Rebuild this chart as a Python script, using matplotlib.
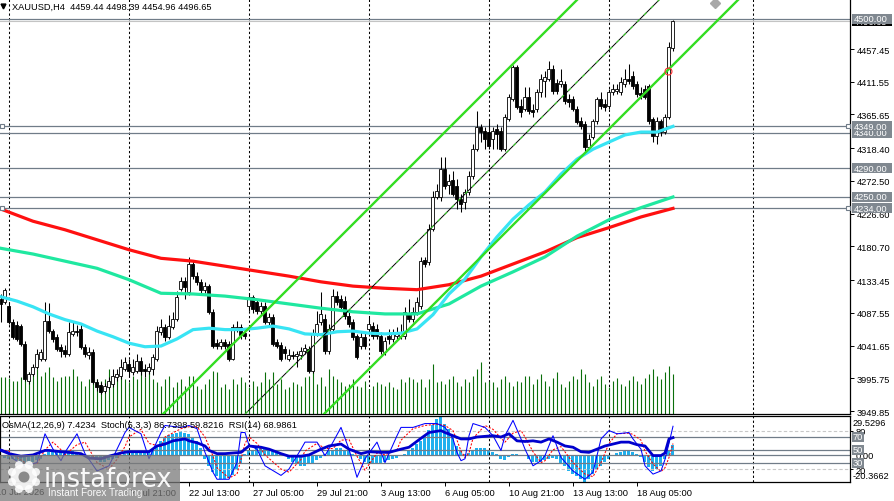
import matplotlib
matplotlib.use("Agg")
import matplotlib.pyplot as plt
import matplotlib.transforms as mtransforms
from matplotlib.patches import Rectangle, Circle
import numpy as np

plt.rcParams['font.family'] = ['Liberation Sans', 'DejaVu Sans']
FS = 6.7

# ---- XAUUSD H4 candles ----
opens = [4107, 4103, 4097, 4075, 4071, 4069, 4044, 3992, 4002, 4012,
         4023, 4023, 4076, 4062, 4054, 4040, 4035, 4030, 4058, 4062,
         4065, 4040, 4028, 4033, 3991, 3986, 3978, 3984, 3988, 3998,
         3999, 4009, 4016, 4005, 4006, 4020, 4009, 4006, 4009, 4023,
         4061, 4068, 4054, 4068, 4079, 4121, 4132, 4117, 4156, 4139,
         4131, 4120, 4125, 4089, 4045, 4041, 4047, 4044, 4023, 4065,
         4068, 4059, 4097, 4110, 4103, 4090, 4097, 4075, 4082, 4047,
         4042, 4037, 4023, 4028, 4027, 4028, 4034, 4037, 4006, 4058,
         4075, 4079, 4034, 4065, 4111, 4107, 4104, 4083, 4075, 4055,
         4041, 4054, 4065, 4069, 4065, 4055, 4033, 4055, 4051, 4055,
         4055, 4055, 4086, 4079, 4089, 4097, 4162, 4159, 4205, 4250,
         4250, 4289, 4267, 4274, 4265, 4247, 4243, 4257, 4279, 4317,
         4348, 4343, 4341, 4331, 4345, 4343, 4317, 4359, 4387, 4432,
         4378, 4373, 4390, 4372, 4373, 4397, 4413, 4415, 4429, 4410,
         4408, 4408, 4387, 4387, 4373, 4357, 4352, 4320, 4334, 4357,
         4387, 4380, 4378, 4397, 4399, 4397, 4408, 4415, 4420, 4408,
         4396, 4401, 4406, 4359, 4335, 4357, 4341, 4362, 4459.44]
highs = [4114, 4122, 4103, 4079, 4076, 4072, 4048, 4005, 4016, 4037,
         4037, 4103, 4101, 4065, 4058, 4044, 4042, 4075, 4076, 4071,
         4072, 4044, 4040, 4037, 3995, 3991, 3989, 3998, 4009, 4009,
         4023, 4026, 4023, 4023, 4030, 4026, 4016, 4017, 4030, 4069,
         4079, 4072, 4085, 4089, 4118, 4138, 4138, 4166, 4160, 4145,
         4135, 4131, 4128, 4093, 4051, 4051, 4051, 4048, 4072, 4076,
         4072, 4065, 4115, 4113, 4107, 4103, 4103, 4087, 4086, 4051,
         4047, 4041, 4037, 4034, 4034, 4040, 4044, 4041, 4065, 4090,
         4117, 4086, 4072, 4121, 4118, 4113, 4111, 4089, 4079, 4058,
         4061, 4061, 4082, 4075, 4072, 4061, 4054, 4065, 4065, 4068,
         4072, 4096, 4107, 4096, 4110, 4166, 4166, 4212, 4258, 4268,
         4306, 4306, 4282, 4286, 4275, 4254, 4261, 4286, 4324, 4371,
         4352, 4348, 4359, 4348, 4352, 4348, 4366, 4394, 4435, 4435,
         4387, 4404, 4404, 4380, 4401, 4422, 4427, 4441, 4435, 4415,
         4429, 4413, 4394, 4392, 4378, 4362, 4357, 4338, 4359, 4390,
         4397, 4387, 4401, 4408, 4408, 4418, 4429, 4437, 4427, 4413,
         4404, 4407, 4408, 4362, 4362, 4359, 4366, 4467, 4498.39]
lows = [4075, 4100, 4072, 4051, 4048, 4041, 3992, 3988, 3999, 4009,
        4020, 4020, 4059, 4047, 4034, 4026, 4026, 4027, 4055, 4055,
        4037, 4026, 4023, 3988, 3978, 3974, 3975, 3981, 3984, 3992,
        3995, 4006, 3998, 4000, 4003, 4000, 3998, 4002, 4000, 4020,
        4057, 4048, 4051, 4065, 4076, 4118, 4107, 4113, 4135, 4127,
        4115, 4115, 4086, 4038, 4037, 4037, 4037, 4020, 4021, 4061,
        4051, 4051, 4090, 4087, 4086, 4085, 4072, 4070, 4041, 4038,
        4020, 4023, 4020, 4023, 4012, 4023, 4030, 4003, 4003, 4055,
        4070, 4030, 4030, 4062, 4098, 4090, 4079, 4068, 4049, 4023,
        4037, 4037, 4061, 4051, 4051, 4030, 4028, 4044, 4047, 4051,
        4051, 4051, 4075, 4075, 4085, 4093, 4152, 4155, 4202, 4247,
        4244, 4261, 4254, 4251, 4233, 4229, 4233, 4253, 4275, 4315,
        4327, 4317, 4317, 4317, 4317, 4315, 4315, 4357, 4385, 4373,
        4362, 4371, 4366, 4362, 4369, 4390, 4390, 4413, 4394, 4394,
        4404, 4380, 4376, 4371, 4352, 4345, 4315, 4317, 4331, 4352,
        4373, 4371, 4373, 4393, 4394, 4393, 4404, 4408, 4401, 4390,
        4387, 4387, 4352, 4327, 4324, 4335, 4338, 4359, 4454.96]
closes = [4100, 4120, 4075, 4054, 4051, 4044, 3995, 4002, 4012, 4030,
          4033, 4076, 4062, 4051, 4037, 4034, 4030, 4061, 4062, 4061,
          4040, 4030, 4033, 3991, 3984, 3977, 3985, 3992, 3999, 4002,
          4012, 4019, 4006, 4012, 4020, 4006, 4006, 4012, 4026, 4062,
          4068, 4054, 4069, 4079, 4110, 4132, 4124, 4156, 4139, 4131,
          4120, 4125, 4089, 4041, 4041, 4047, 4041, 4023, 4068, 4068,
          4057, 4055, 4110, 4093, 4090, 4097, 4075, 4082, 4044, 4041,
          4023, 4031, 4028, 4027, 4030, 4034, 4038, 4006, 4058, 4072,
          4086, 4034, 4065, 4111, 4103, 4096, 4083, 4072, 4054, 4026,
          4054, 4041, 4072, 4055, 4055, 4034, 4048, 4051, 4058, 4061,
          4061, 4089, 4079, 4089, 4103, 4160, 4156, 4205, 4250, 4258,
          4289, 4265, 4272, 4254, 4247, 4240, 4257, 4279, 4317, 4348,
          4341, 4331, 4322, 4343, 4338, 4317, 4362, 4390, 4432, 4376,
          4369, 4390, 4371, 4369, 4397, 4415, 4418, 4429, 4399, 4399,
          4413, 4385, 4383, 4373, 4355, 4350, 4320, 4331, 4357, 4387,
          4378, 4376, 4397, 4401, 4401, 4411, 4415, 4413, 4406, 4394,
          4393, 4390, 4357, 4335, 4357, 4341, 4362, 4460, 4496.65]
volumes = [37, 37, 36, 33, 33, 37, 49, 42, 41, 45, 38, 42, 47, 37, 33, 37, 38, 38, 45, 38,
           33, 28, 35, 47, 35, 33, 35, 45, 37, 38, 47, 35, 32, 38, 35, 43, 37, 42, 35, 32,
           28, 35, 38, 27, 32, 35, 28, 38,
           38, 28, 25, 30, 35, 43, 42, 27, 30, 25, 35, 30, 37, 32, 27, 33, 28, 32, 42, 35,
           42, 30, 35, 25, 27, 32, 30, 28, 37, 38, 43, 30, 37, 28, 45, 38, 35, 32, 28, 30,
           35, 28, 27, 33, 25, 28, 32, 30, 28, 32, 27, 25, 35, 32, 37,
           35,
           32, 35, 27, 35, 50, 32, 33, 30, 35, 38, 32, 28, 35, 32, 38, 45, 52, 32, 33, 32,
           27, 35, 38, 32, 28, 33, 32, 38, 38,
           30, 35, 40, 33, 28, 36, 42, 30, 27, 33, 38, 35, 45, 40, 32, 28, 35, 38, 30, 27,
           33, 36, 30, 28, 34, 38, 33, 30, 36, 40, 45, 38, 35, 42, 48, 40]

# moving averages (sampled every 4th / 8th bar)
ema50_bars = list(range(0, 169, 4))
ema50 = [4110, 4104, 4096, 4086, 4078, 4072, 4062, 4054, 4045, 4040, 4041, 4051, 4064,
         4066, 4064, 4064, 4066, 4069, 4065, 4058, 4057, 4061, 4062, 4059, 4058, 4059,
         4065, 4085, 4114, 4135, 4166, 4194, 4219, 4239, 4257, 4282, 4303, 4317, 4327,
         4337, 4341, 4341, 4349]
ema_slow_bars = list(range(0, 169, 8))
ema144 = [4178, 4170, 4160, 4150, 4134, 4115, 4114, 4111, 4106, 4100, 4094, 4089, 4086,
          4086, 4100, 4125, 4145, 4166, 4195, 4218, 4235, 4250]
ema200 = [4233, 4216, 4204, 4190, 4176, 4164, 4160, 4153, 4146, 4139, 4131, 4125, 4122,
          4120, 4127, 4139, 4156, 4173, 4193, 4207, 4222, 4234]

levels = [4500.00, 4349.00, 4340.00, 4290.00, 4250.00, 4234.00]
price_ticks = [3949.85, 3995.75, 4041.65, 4087.55, 4133.45, 4180.70, 4226.60,
               4272.50, 4318.40, 4365.65, 4411.55, 4457.45]

# equidistant channel: anchor (bar, price) per line, common slope in price/bar
chan_slope = 5.61
chan_upper = (74.75, 4137.8)
chan_mid = (109.75, 4219.0)
chan_lower = (124.75, 4192.5)

date_bars = [31, 47, 63, 79, 95, 111, 127, 143, 159]
date_labels = ['17 Jul 21:00', '22 Jul 13:00', '27 Jul 05:00', '29 Jul 21:00',
               '3 Aug 13:00', '6 Aug 05:00', '10 Aug 21:00', '13 Aug 13:00', '18 Aug 05:00']
week_bars = [2, 32, 62, 92, 122, 152, 188]

# ---- sub window: OsMA(12,26,9), Stoch(5,3,3), RSI(14) ----
osma = [-1, -2, -3, -3,
        -4, -5, -6, -6, -5, -4, -3,
        1, 2, 3, 3, 3, 2, 2, 3, 2, 1,
        -1, -2, -3, -4, -5, -5, -4, -3, -2, -1,
        1, 2, 2, 3, 3, 3, 4, 4,
        7, 11, 13, 15, 16, 17, 18, 17, 16, 13, 11, 5,
        -3, -8, -13, -16, -18, -18, -17, -15, -11, -6,
        1, 3, 4, 5, 5, 5, 4, 3, 2, 1,
        -1, -3, -5, -7, -8, -8, -7, -6, -4, -2,
        1, 3, 4, 5, 5, 4, 3, 1,
        -1, -3, -5, -6, -7, -6, -6, -5, -4, -3, -2, -1,
        1, 3, 5, 8, 11, 15, 19, 23, 27, 29.5296,
        23.5, 19.7, 13.4, 7.1, 3.3, 0.8, 1.5,
        3, 5, 5, 5, 4, 2.5, 1,
        -3, -3.5, -1.3, 1, 1, 0.3, -1, -3,
        -5.6, -5.6, -5, -4, -3, -2, -3, -6,
        -8, -12, -14, -16, -18, -20.3662, -18, -14, -10.5, -8, -5.5, -3,
        -1, 1.5, 2.5, 3.3, 3.3, 2.5, 1, -1.3,
        -5.5, -9.3, -11.8, -10.5, -8, -3, 3.3, 7.4234]
stoch_bars = [0, 2, 3, 6, 9, 11, 13, 15, 16, 19, 21, 24, 27, 29, 31, 32, 35, 37, 40, 41,
              45, 47, 49, 51, 53, 54, 57, 59, 60, 61, 62, 64, 66, 70, 72, 75, 76, 79, 81, 83,
              85, 87, 89, 91, 94, 96, 99, 100, 103, 106, 109, 111, 113, 114, 115, 116, 117,
              118, 121, 123, 125, 126, 128, 130, 131, 133, 135, 136, 138, 140, 143, 146, 148,
              150, 152, 154, 157, 158, 160, 161, 163, 165, 166, 167, 168]
stoch_main = [51, 46, 36, 25, 30, 75, 51, 33, 46, 75, 44, 17, 25, 51, 77, 85, 75, 36, 77, 88,
              85, 88, 83, 46, 15, 4, 4, 30, 77, 77, 57, 51, 25, 10, 20, 51, 62, 62, 41, 62,
              85, 51, 7, 36, 62, 30, 72, 85, 85, 91, 91, 85, 67, 46, 33, 36, 72,
              91, 85, 72, 49, 72, 96, 67, 51, 25, 33, 41, 72, 38, 17, 4, 15,
              67, 80, 75, 77, 67, 51, 25, 12, 17, 35, 60, 86.7398]
stoch_signal = [50, 48, 42, 30, 28, 50, 62, 50, 42, 58, 62, 30, 20, 35, 55, 70, 82, 60, 55, 70,
                83, 86, 86, 70, 40, 22, 6, 12, 35, 60, 70, 60, 42, 20, 15, 35, 48, 60, 52, 52,
                65, 66, 40, 18, 45, 42, 50, 65, 83, 88, 90, 88, 80, 65, 48, 38, 45,
                68, 88, 82, 68, 62, 76, 80, 70, 47, 30, 33, 50, 55, 30, 12, 8,
                30, 60, 75, 76, 74, 65, 48, 28, 16, 22, 38, 59.8216]
rsi_bars = [0, 2, 5, 8, 11, 12, 15, 17, 20, 22, 25, 27, 30, 32, 35, 37, 39, 41, 43, 46,
            47, 49, 51, 52, 54, 56, 60, 62, 65, 67, 70, 72, 75, 77, 80, 82, 85, 87, 90, 92,
            95, 97, 100, 102, 105, 107, 110, 111, 113, 115, 117, 119, 121, 123, 125, 127,
            129, 131, 133, 135, 137, 139, 141, 143, 145, 147, 149, 151, 153, 155, 157, 159,
            161, 163, 165, 166, 167, 168]
rsi = [49, 44, 40, 42, 49, 49, 47, 46, 44, 37, 36, 40, 45, 47, 47, 47, 56, 59, 64, 67,
       64, 61, 56, 49, 44, 44, 46, 56, 54, 51, 44, 40, 40, 42, 51, 56, 59, 51, 44, 47,
       46, 46, 51, 54, 68, 77, 80, 77, 72, 67, 67, 70, 71, 72, 70, 75,
       64, 63, 64, 62, 67, 62, 56, 54, 47, 46, 51, 56, 59, 62, 62, 58,
       56, 41, 41, 45, 67, 68.9861]
osma_range = (-20.3662, 29.5296)

# ---- layout (pixel boxes of the MT4 window) ----
W, H = 894, 502
fig = plt.figure(figsize=(W / 100, H / 100), dpi=100)
fig.patch.set_facecolor('white')


def px_rect(x0, y0, x1, y1):
    return [x0 / W, 1 - y1 / H, (x1 - x0) / W, (y1 - y0) / H]


ax = fig.add_axes(px_rect(0, 0, 850, 415))
ax2 = fig.add_axes(px_rect(0, 417, 850, 483), sharex=ax)
axo = ax2.twinx()

ax.set_xlim(-0.25, 212.25)
ax.set_ylim(3945.69, 4527.6)

bars = np.arange(len(closes))
o = np.array(opens, float)
c = np.array(closes, float)
up = c >= o

# week separators
for b in week_bars:
    ax.axvline(b, color='black', lw=0.75, ls=(0, (2.2, 2.2)), zorder=0.5)
    ax2.axvline(b, color='black', lw=0.75, ls=(0, (2.2, 2.2)), zorder=0.5)

# volumes along the bottom of the price window
vol_tr = mtransforms.blended_transform_factory(ax.transData, ax.transAxes)
vol_top = max(volumes) / 0.125
ax.vlines(bars, 0, np.array(volumes) / vol_top, transform=vol_tr,
          color='#0a6e0a', lw=0.8, zorder=1)

# horizontal levels
for lv in levels:
    ax.axhline(lv, color='#707c88', lw=0.9, zorder=1.5)
ax.axhline(closes[-1], color='#c4c4c4', lw=0.8, zorder=1.4)
for lv in (4349.00, 4234.00):
    ax.plot([0.25, 211.75], [lv, lv], ls='none', marker='s', ms=3.5, mfc='white',
            mec='#707c88', mew=0.8, zorder=6, clip_on=False)

# candles
ax.vlines(bars, lows, highs, color='black', lw=0.75, zorder=3)
body = np.maximum(np.abs(c - o), 0.7)
ax.bar(bars, body, bottom=np.minimum(o, c), width=0.75,
       color=np.where(up, 'white', 'black'), edgecolor='black', linewidth=0.6, zorder=4)

# moving averages
ax.plot(ema_slow_bars, ema200, color='#ff1010', lw=2.3, zorder=5)
ax.plot(ema_slow_bars, ema144, color='#1fe8a0', lw=2.3, zorder=5)
ax.plot(ema50_bars, ema50, color='#38e4f4', lw=2.3, zorder=5)

# channel
for anchor in (chan_upper, chan_lower):
    ax.axline(anchor, slope=chan_slope, color='#33dd22', lw=1.7, zorder=6)
ax.axline(chan_mid, slope=chan_slope, color='black', lw=0.7, zorder=6)
ax.axline(chan_mid, slope=chan_slope, color='#33dd22', lw=0.7, ls=(0, (4, 6)), zorder=6)
ax.plot(166.75, 4427.0, marker='o', ms=5, mfc='none', mec='#ff3030', mew=0.8, zorder=7)
ax.plot(178.5, 4522.0, marker='D', ms=5, color='#a8a8a8', zorder=7)

# price axis
ax.yaxis.tick_right()
ax.set_yticks(price_ticks)
ax.set_yticklabels(['%.2f' % t for t in price_ticks])
ax.tick_params(axis='y', direction='out', length=3, width=0.7, pad=2, labelsize=FS)
ax.tick_params(axis='x', which='both', bottom=False, labelbottom=False)
for side in ('top', 'left'):
    ax.spines[side].set_visible(False)
for side in ('right', 'bottom'):
    ax.spines[side].set_color('black')
    ax.spines[side].set_linewidth(0.9)

# level tags on the price scale (later tags sit on top of earlier ones)
ytr = ax.get_yaxis_transform()
tag_h = 5 * (4527.6 - 3945.69) / 415
tag_order = [(closes[-1], 'black'), (4500.00, '#808890'), (4340.00, '#808890'),
             (4349.00, '#808890'), (4290.00, '#808890'), (4250.00, '#808890'),
             (4234.00, '#808890')]
for k, (value, fc) in enumerate(tag_order):
    z = 8 + 2 * k
    ax.add_patch(Rectangle((852 / 850, value - tag_h), 40 / 850, 2 * tag_h, transform=ytr,
                           facecolor=fc, edgecolor='none', clip_on=False, zorder=z))
    ax.text(854 / 850, value, '%.2f' % value, transform=ytr, color='white', fontsize=FS,
            va='center', ha='left', zorder=z + 1, clip_on=False)

# header
ax.plot(3 / 850, 1 - 7 / 415, marker='v', ms=3.5, color='black', transform=ax.transAxes,
        clip_on=False)
ax.text(12 / 850, 1 - 7 / 415,
        'XAUUSD,H4  %.2f %.2f %.2f %.2f' % (opens[-1], highs[-1], lows[-1], closes[-1]),
        transform=ax.transAxes, fontsize=FS, va='center', ha='left')

# ---- indicator window ----
axo.set_ylim(*osma_range)
ax2.set_ylim(-0.3, 102.8)
ax2.set_zorder(axo.get_zorder() + 1)
ax2.patch.set_visible(False)
axo.patch.set_facecolor('white')

axo.bar(bars, osma, width=0.75, color='#1fb0ee', zorder=2)
axo.axhline(0, color='#707c88', lw=0.9, zorder=3)
for lv in (80, 20):
    ax2.axhline(lv, color='#c8c8c8', lw=0.8, ls=(0, (3, 2)), zorder=1)
for lv in (70, 50, 30):
    ax2.axhline(lv, color='#707c88', lw=0.9, zorder=1)

ax2.plot(stoch_bars, stoch_signal, color='#ff0000', lw=0.75, ls=(0, (2, 1.5)), zorder=3)
ax2.plot(stoch_bars, stoch_main, color='#0000ff', lw=0.75, zorder=3)
ax2.plot(rsi_bars, rsi, color='#0000cd', lw=2.0, zorder=4)

ax2.yaxis.tick_right()
ax2.set_yticks([20, 80])
ax2.set_yticklabels(['20', '80'])
ax2.tick_params(axis='y', direction='out', length=2, width=0.7, pad=2, labelsize=FS)
axo.set_yticks([])
for side in ax2.spines:
    ax2.spines[side].set_color('black')
    ax2.spines[side].set_linewidth(0.9)
for side in axo.spines:
    axo.spines[side].set_visible(False)

ytr2 = ax2.get_yaxis_transform()
tag_h2 = 5 * 103.1 / 66
for k, lv in enumerate((70, 50, 30)):
    z = 8 + 2 * k
    ax2.add_patch(Rectangle((852 / 850, lv - tag_h2), 12 / 850, 2 * tag_h2, transform=ytr2,
                            facecolor='#808890', edgecolor='none', clip_on=False, zorder=z))
    ax2.text(853 / 850, lv, str(lv), transform=ytr2, color='white', fontsize=FS,
             va='center', ha='left', zorder=z + 1, clip_on=False)
axo.text(853 / 850, 0.894, '%.4f' % osma_range[1], transform=axo.transAxes, fontsize=FS,
         va='center', ha='left', clip_on=False)
axo.text(856 / 850, 0, '0.00', transform=axo.get_yaxis_transform(), fontsize=FS,
         va='center', ha='left', clip_on=False)
axo.text(853 / 850, 0.091, '%.4f' % osma_range[0], transform=axo.transAxes, fontsize=FS,
         va='center', ha='left', clip_on=False)

ax2.text(2 / 850, 0.864,
         'OsMA(12,26,9) %.4f  Stoch(5,3,3) %.4f %.4f  RSI(14) %.4f'
         % (osma[-1], stoch_main[-1], stoch_signal[-1], rsi[-1]),
         transform=ax2.transAxes, fontsize=FS, va='center', ha='left', zorder=10)

# time axis
ax2.set_xticks(date_bars)
ax2.set_xticklabels(date_labels)
for lbl in ax2.get_xticklabels():
    lbl.set_ha('left')
ax2.tick_params(axis='x', direction='out', length=3, width=0.7, pad=1.5, labelsize=FS)
xtr2 = mtransforms.blended_transform_factory(ax2.transData, ax2.transAxes)
ax2.text(-1.25, -0.15, '10 Jul 2026', transform=xtr2, fontsize=FS, va='center', ha='left',
         clip_on=False)

# ---- watermark ----
lax = fig.add_axes(px_rect(0, 456, 180, 502))
lax.set_xlim(0, 180)
lax.set_ylim(46, 0)
lax.axis('off')
lax.set_zorder(20)
lax.add_patch(Rectangle((0, 0), 180, 46, facecolor='#7a7a7a', alpha=0.75, edgecolor='none'))
for k in range(8):
    a = np.pi / 8 + k * np.pi / 4
    lax.add_patch(Circle((24 + 13 * np.cos(a), 22 + 13 * np.sin(a)), 4, facecolor='white',
                         alpha=0.85, edgecolor='none'))
lax.add_patch(Circle((24, 22), 13, facecolor='white', alpha=0.85, edgecolor='none'))
lax.add_patch(Circle((24, 22), 5.5, facecolor='#8a8a8a', edgecolor='none'))
lax.text(44, 31, 'instaforex', color='white', fontsize=18.5, family='DejaVu Sans',
         va='baseline', ha='left', alpha=0.95)
lax.text(48, 37, 'Instant Forex Trading', color='white', fontsize=7.2, va='center',
         ha='left', alpha=0.95)

fig.savefig('out.png', dpi=100)
